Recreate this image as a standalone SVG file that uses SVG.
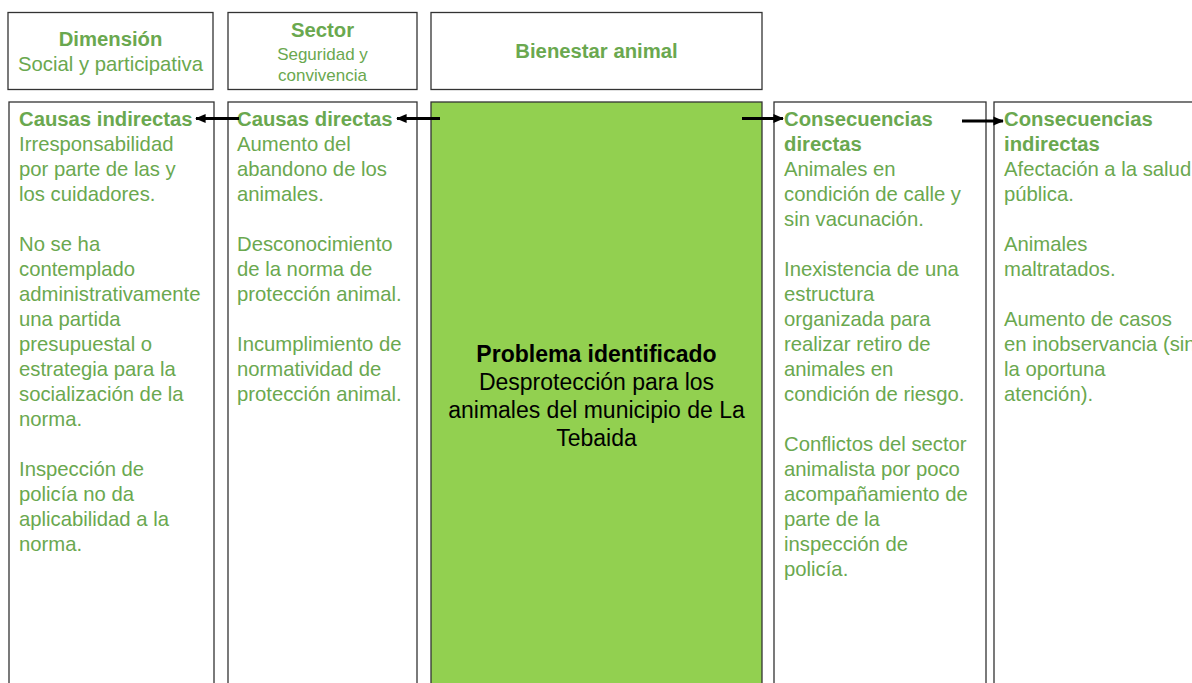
<svg xmlns="http://www.w3.org/2000/svg" width="1192" height="683" viewBox="0 0 1192 683">
<style>
.box{fill:#ffffff;stroke:#333333;stroke-width:1.3}
.core{fill:#92d050;stroke:#333333;stroke-width:1.3}
text{font-family:"Liberation Sans",Arial,sans-serif;font-size:20.3px;fill:#6aa84f}
.b{font-weight:bold}
.s{font-size:17px}
.k{fill:#000000;font-size:23px}
.c{text-anchor:middle}
.arr{stroke:#000000;stroke-width:3;fill:none;marker-end:url(#ah)}
</style>
<defs>
<marker id="ah" markerWidth="4" markerHeight="4" refX="3.2" refY="2" orient="auto" markerUnits="strokeWidth">
<path d="M0,0.5 L3.5,2 L0,3.5 Z" fill="#000000"/>
</marker>
</defs>
<rect width="1192" height="683" fill="#ffffff"/>
<g id="dimension">
<rect class="box" x="8" y="12.5" width="205" height="77"/>
<text class="b c" x="110.5" y="46">Dimensión</text>
<text class="c" x="110.5" y="71">Social y participativa</text>
</g>
<g id="sector">
<rect class="box" x="228" y="12.5" width="189" height="77"/>
<text class="b c" x="322.5" y="37">Sector</text>
<text class="s c" x="322.5" y="60">Seguridad y</text>
<text class="s c" x="322.5" y="81">convivencia</text>
</g>
<g id="bienestar">
<rect class="box" x="431" y="12.5" width="331" height="77"/>
<text class="b c" x="596.5" y="58">Bienestar animal</text>
</g>
<g id="causas-indirectas">
<rect class="box" x="9" y="102" width="205" height="600"/>
<text x="19" y="126"><tspan class="b">Causas indirectas</tspan><tspan x="19" dy="25">Irresponsabilidad</tspan><tspan x="19" dy="25">por parte de las y</tspan><tspan x="19" dy="25">los cuidadores.</tspan><tspan x="19" dy="50">No se ha</tspan><tspan x="19" dy="25">contemplado</tspan><tspan x="19" dy="25">administrativamente</tspan><tspan x="19" dy="25">una partida</tspan><tspan x="19" dy="25">presupuestal o</tspan><tspan x="19" dy="25">estrategia para la</tspan><tspan x="19" dy="25">socialización de la</tspan><tspan x="19" dy="25">norma.</tspan><tspan x="19" dy="50">Inspección de</tspan><tspan x="19" dy="25">policía no da</tspan><tspan x="19" dy="25">aplicabilidad a la</tspan><tspan x="19" dy="25">norma.</tspan></text>
</g>
<g id="causas-directas">
<rect class="box" x="228" y="102" width="189" height="600"/>
<text x="237" y="126"><tspan class="b">Causas directas</tspan><tspan x="237" dy="25">Aumento del</tspan><tspan x="237" dy="25">abandono de los</tspan><tspan x="237" dy="25">animales.</tspan><tspan x="237" dy="50">Desconocimiento</tspan><tspan x="237" dy="25">de la norma de</tspan><tspan x="237" dy="25">protección animal.</tspan><tspan x="237" dy="50">Incumplimiento de</tspan><tspan x="237" dy="25">normatividad de</tspan><tspan x="237" dy="25">protección animal.</tspan></text>
</g>
<g id="problema">
<rect class="core" x="431" y="102" width="331" height="600"/>
<text class="k c" x="596.5" y="362"><tspan class="b">Problema identificado</tspan><tspan x="596.5" dy="28">Desprotección para los</tspan><tspan x="596.5" dy="28">animales del municipio de La</tspan><tspan x="596.5" dy="28">Tebaida</tspan></text>
</g>
<g id="consecuencias-directas">
<rect class="box" x="774" y="102" width="212" height="600"/>
<text x="784" y="126"><tspan class="b">Consecuencias</tspan><tspan class="b" x="784" dy="25">directas</tspan><tspan x="784" dy="25">Animales en</tspan><tspan x="784" dy="25">condición de calle y</tspan><tspan x="784" dy="25">sin vacunación.</tspan><tspan x="784" dy="50">Inexistencia de una</tspan><tspan x="784" dy="25">estructura</tspan><tspan x="784" dy="25">organizada para</tspan><tspan x="784" dy="25">realizar retiro de</tspan><tspan x="784" dy="25">animales en</tspan><tspan x="784" dy="25">condición de riesgo.</tspan><tspan x="784" dy="50">Conflictos del sector</tspan><tspan x="784" dy="25">animalista por poco</tspan><tspan x="784" dy="25">acompañamiento de</tspan><tspan x="784" dy="25">parte de la</tspan><tspan x="784" dy="25">inspección de</tspan><tspan x="784" dy="25">policía.</tspan></text>
</g>
<g id="consecuencias-indirectas">
<rect class="box" x="994" y="102" width="220" height="600"/>
<text x="1004" y="126"><tspan class="b">Consecuencias</tspan><tspan class="b" x="1004" dy="25">indirectas</tspan><tspan x="1004" dy="25">Afectación a la salud</tspan><tspan x="1004" dy="25">pública.</tspan><tspan x="1004" dy="50">Animales</tspan><tspan x="1004" dy="25">maltratados.</tspan><tspan x="1004" dy="50">Aumento de casos</tspan><tspan x="1004" dy="25">en inobservancia (sin</tspan><tspan x="1004" dy="25">la oportuna</tspan><tspan x="1004" dy="25">atención).</tspan></text>
</g>
<g id="connectors">
<line class="arr" x1="440" y1="118.5" x2="397" y2="118.5"/>
<line class="arr" x1="239" y1="118.5" x2="196" y2="118.5"/>
<line class="arr" x1="742" y1="118.5" x2="783" y2="118.5"/>
<line class="arr" x1="962" y1="121" x2="1003" y2="121"/>
</g>
</svg>
